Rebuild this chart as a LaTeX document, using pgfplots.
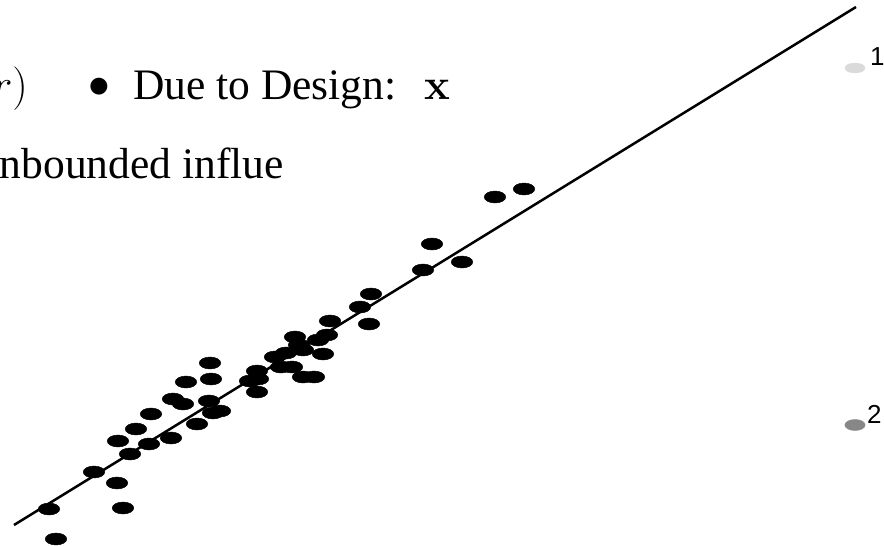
\documentclass[border=0pt]{standalone}
\usepackage{fix-cm}
\usepackage{fontspec}
\setmainfont{Liberation Serif}
\newfontfamily\helv{Liberation Sans}
\usepackage{pgfplots}
\pgfplotsset{compat=1.18}
\definecolor{lightg}{HTML}{DADADA}
\definecolor{darkg}{HTML}{878787}
\begin{document}
\begin{tikzpicture}
\path[use as bounding box] (0,0) rectangle (884pt,546pt);
\clip (0,0) rectangle (884pt,546pt);
\begin{axis}[
  at={(0,0)}, anchor=south west,
  width=884pt, height=546pt, scale only axis,
  xmin=0, xmax=884, ymin=0, ymax=546, y dir=reverse,
  hide axis, clip=false]
% fitted line
\addplot[black, line width=2.5pt, no marks] coordinates {(14,525) (856,7)};
% data points
\addplot[only marks, mark=*, mark size=6pt, mark options={xscale=1.8, draw=black, fill=black}] coordinates {
(56,539) (49,509) (123,508) (117,483) (94,472) (130,454) (149,444) (171,438)
(197,424) (118,441) (136,429) (151,414) (173,399) (183,404) (186,382) (210,363)
(211,379) (209,401) (213,413) (220,411) (257,371) (250,381) (258,379) (257,392)
(275,357) (286,353) (281,367) (292,367) (303,377) (314,377) (295,337) (299,345)
(303,350) (318,340) (327,335) (323,354) (330,321) (360,307) (371,294) (369,324)
(423,270) (432,244) (462,262) (495,197) (524,189)
};
% legend-like gray marks
\addplot[only marks, mark=*, mark size=5pt, mark options={xscale=2, draw=lightg, fill=lightg}] coordinates {(855,68)};
\addplot[only marks, mark=*, mark size=5.5pt, mark options={xscale=1.85, draw=darkg, fill=darkg}] coordinates {(855,425)};
% text
\node[anchor=base east, inner sep=0pt, font=\fontsize{43.5}{52}\selectfont] at (axis cs:28,99.5) {$(r)$};
\node[inner sep=0pt, font=\fontsize{43.5}{52}\selectfont] at (axis cs:99,87.5) {$\bullet$};
\node[anchor=base west, inner sep=0pt, font=\fontsize{43.5}{52}\selectfont] at (axis cs:133,99.5) {Due to Design:};
\node[anchor=base west, inner sep=0pt, font=\fontsize{43.5}{52}\fontencoding{OT1}\fontfamily{cmr}\fontseries{bx}\selectfont] at (axis cs:424,99.5) {x};
\node[anchor=base east, inner sep=0pt, font=\fontsize{43.5}{52}\selectfont] at (axis cs:284,178) {unbounded influe};
\node[anchor=base west, inner sep=0pt, font=\helv\fontsize{26}{30}\selectfont] at (axis cs:870,65.5) {1};
\node[anchor=base west, inner sep=0pt, font=\helv\fontsize{26}{30}\selectfont] at (axis cs:867,423.5) {2};
\end{axis}
\end{tikzpicture}
\end{document}
